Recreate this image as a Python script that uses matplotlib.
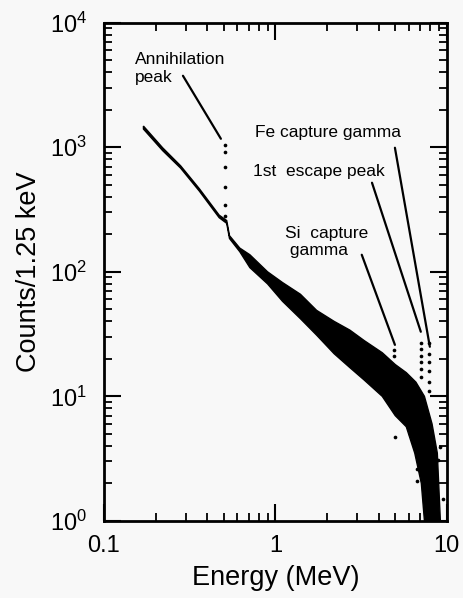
import numpy as np
import matplotlib.pyplot as plt
from matplotlib.ticker import LogLocator, NullFormatter

plt.rcParams.update({
    'font.family': ['Liberation Sans', 'DejaVu Sans'],
    'figure.facecolor': '#f8f8f8',
    'axes.facecolor': '#f8f8f8',
})

# spectrum envelope (energy in MeV, counts / 1.25 keV)
upper_e = [0.17, 0.22, 0.28, 0.36, 0.47, 0.52, 0.54, 0.62, 0.71, 0.9, 1.1, 1.4,
           1.74, 2.2, 2.72, 3.3, 4.2, 5.0, 5.8, 6.6, 7.4, 8.2, 8.8, 9.2]
upper_c = [1480, 990, 710, 465, 285, 258, 195, 155, 137, 100, 82, 66,
           49, 40, 34, 28, 22.4, 18, 15.5, 13, 10, 6.0, 3.5, 0.9]
lower_e = [0.17, 0.22, 0.28, 0.36, 0.47, 0.52, 0.54, 0.62, 0.71, 0.9, 1.1, 1.4,
           1.74, 2.2, 2.72, 3.3, 4.2, 5.0, 5.8, 6.5, 7.1, 7.45, 9.0]
lower_c = [1400, 940, 680, 445, 272, 245, 185, 145, 108, 80, 58, 42,
           31, 22, 17, 13.5, 10, 7.0, 5.7, 3.5, 2.0, 0.9, 0.9]

# isolated channels (peaks and stragglers)
annih_e = [0.511, 0.511, 0.511, 0.511, 0.511, 0.511]
annih_c = [1050, 920, 700, 480, 345, 280]
si_e = [4.95, 4.95, 4.95]
si_c = [23.6, 21, 17.3]
esc_e = [7.1, 7.1, 7.1, 7.1, 7.1, 7.1]
esc_c = [27, 24, 21, 19, 16.6, 14.3]
fe_e = [7.9, 7.9, 7.9, 7.9, 7.9, 7.9]
fe_c = [27, 22, 19, 16, 13, 11]
stray_e = [5.0, 6.7, 6.7, 9.1, 8.9, 9.5, 6.1, 6.1]
stray_c = [4.7, 2.1, 2.6, 3.9, 3.1, 1.5, 6.0, 5.0]

xtick_vals = [0.1, 1, 10]
xtick_labels = ['0.1', '1', '10']

fig = plt.figure(figsize=(4.64, 5.98), dpi=100)
ax = fig.add_axes([0.224, 0.129, 0.739, 0.833])
ax.set_xscale('log')
ax.set_yscale('log')

band_e = upper_e + lower_e[::-1]
band_c = upper_c + lower_c[::-1]
ax.fill(band_e, band_c, facecolor='black', edgecolor='black', linewidth=1.0)

for e, c in [(annih_e, annih_c), (si_e, si_c), (esc_e, esc_c),
             (fe_e, fe_c), (stray_e, stray_c)]:
    ax.scatter(e, c, s=7, color='black', linewidths=0)

ax.set_xlim(0.1, 10)
ax.set_ylim(1, 1e4)

# annotations
txt = dict(fontsize=12.5, color='black')
ax.text(0.152, 5850, 'Annihilation\npeak', va='top', ha='left', linespacing=1.3, **txt)
ax.text(0.759, 1307, 'Fe capture gamma', va='center', ha='left', **txt)
ax.text(0.74, 635, '1st  escape peak', va='center', ha='left', **txt)
ax.text(1.136, 235, 'Si  capture\n gamma', va='top', ha='left', linespacing=1.2, **txt)

line = dict(arrowstyle='-', color='black', linewidth=1.6, shrinkA=0, shrinkB=0)
ax.annotate('', xy=(0.481, 1170), xytext=(0.289, 3750), arrowprops=line)
ax.annotate('', xy=(7.96, 25), xytext=(4.98, 991), arrowprops=line)
ax.annotate('', xy=(7.05, 33), xytext=(3.66, 519), arrowprops=line)
ax.annotate('', xy=(4.98, 25.9), xytext=(3.19, 137), arrowprops=line)

ax.set_xticks(xtick_vals)
ax.set_xticklabels(xtick_labels)
ax.xaxis.set_minor_locator(LogLocator(base=10, subs=np.arange(2, 10)))
ax.yaxis.set_minor_locator(LogLocator(base=10, subs=np.arange(2, 10)))
ax.xaxis.set_minor_formatter(NullFormatter())
ax.yaxis.set_minor_formatter(NullFormatter())

ax.tick_params(which='both', direction='in', top=True, right=True)
ax.tick_params(which='major', length=12, width=1.5, labelsize=17)
ax.tick_params(which='minor', length=6, width=1.3)
ax.tick_params(axis='x', which='major', pad=10)
ax.tick_params(axis='y', which='major', pad=12)
for sp in ax.spines.values():
    sp.set_linewidth(2)

ax.set_xlabel('Energy (MeV)', fontsize=19.5, labelpad=6)
ax.set_ylabel('Counts/1.25 keV', fontsize=19.5, labelpad=6)

fig.savefig('out.png', dpi=100)
